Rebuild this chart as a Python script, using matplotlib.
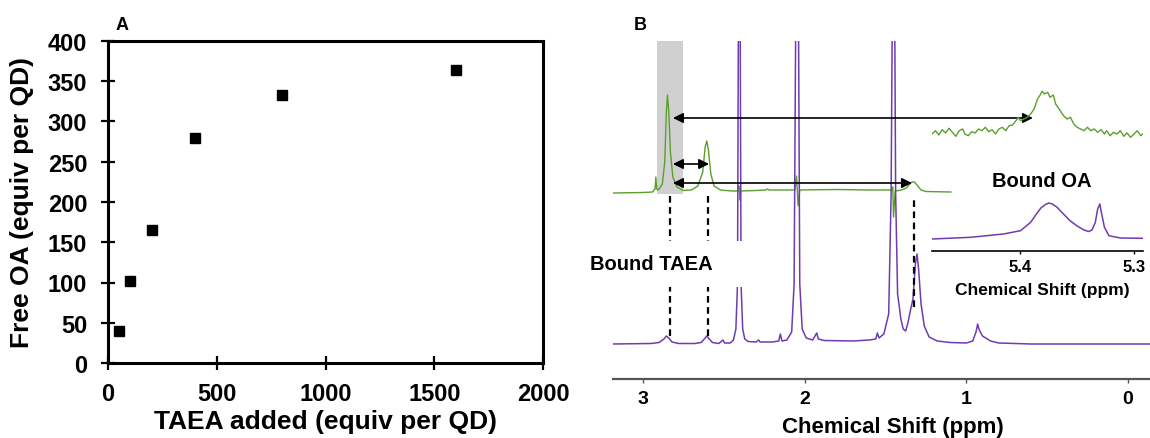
import matplotlib
matplotlib.use("Agg")
import matplotlib.pyplot as plt

plt.rcParams["font.family"] = ["Liberation Sans", "DejaVu Sans"]
plt.rcParams["font.weight"] = "bold"

# --- panel A: free OA vs TAEA added
taea_added = [50, 100, 200, 400, 800, 1600]
free_oa = [40, 102, 165, 280, 333, 364]

# --- panel B: 1H NMR traces (ppm, arbitrary intensity)
purple_ppm = [3.19, 2.95, 2.90, 2.87, 2.855, 2.84, 2.82, 2.78, 2.68, 2.64, 2.62, 2.605,
              2.59, 2.57, 2.53, 2.505, 2.495, 2.46, 2.44, 2.425, 2.415, 2.408, 2.400,
              2.393, 2.383, 2.37, 2.35, 2.30, 2.285, 2.275, 2.20, 2.16, 2.15, 2.14,
              2.11, 2.08, 2.065, 2.052, 2.040, 2.030, 2.015, 1.99, 1.95, 1.925, 1.915,
              1.88, 1.70, 1.60, 1.56, 1.55, 1.54, 1.51, 1.48, 1.465, 1.455, 1.445,
              1.437, 1.425, 1.415, 1.405, 1.39, 1.375, 1.36, 1.345, 1.33, 1.315, 1.305,
              1.295, 1.28, 1.26, 1.23, 1.18, 1.10, 1.00, 0.96, 0.94, 0.93, 0.92, 0.90,
              0.88, 0.85, 0.80, 0.60, -0.14]
purple_int = [0, 0.5, 1.5, 5, 8, 6, 2, 0.5, 0.5, 1.5, 5, 8,
              5, 1.5, 0.5, 4, 1, 1, 4, 15, 60, 400, 400,
              60, 15, 5, 2.5, 2, 4, 2, 2, 3, 10, 3,
              4, 12, 60, 400, 400, 60, 15, 6, 4, 11, 5,
              3.5, 3, 4, 5, 11, 6, 10, 30, 150, 400, 400,
              150, 50, 38, 25, 15, 13, 22, 34, 45, 80, 90,
              75, 40, 18, 7, 3, 1.5, 1, 3, 12, 20, 14, 8,
              6, 3, 1, 0, 0]

green_ppm = [3.185, 3.0, 2.94, 2.925, 2.92, 2.915, 2.905, 2.88, 2.865, 2.855, 2.848,
             2.84, 2.83, 2.815, 2.79, 2.75, 2.70, 2.66, 2.63, 2.615, 2.605, 2.595,
             2.58, 2.56, 2.52, 2.45, 2.41, 2.405, 2.40, 2.395, 2.30, 2.24, 2.23, 2.22,
             2.10, 2.06, 2.05, 2.04, 2.03, 1.80, 1.60, 1.46, 1.455, 1.45, 1.44, 1.40,
             1.37, 1.35, 1.335, 1.32, 1.30, 1.28, 1.25, 1.095]
green_int = [-1, -0.5, 0, 3, 15, 3, 2, 8, 30, 80, 97,
             80, 40, 15, 5, 1.5, 2, 6, 20, 45, 51, 42,
             18, 6, 2, 1, 1, 6, -8, 1, 1.5, 2, 3, 2,
             2, 2, 16, -14, 2, 2.5, 2, 2, 5, -25, 1, 2,
             4, 8, 10, 10, 6, 2, 0.5, 0]
green_offset = 152

# zoomed olefinic region (5.48-5.29 ppm), green trace already stacked above purple
inset_purple_ppm = [5.478, 5.444, 5.415, 5.400, 5.391, 5.386, 5.382, 5.378, 5.375, 5.372,
                    5.368, 5.363, 5.356, 5.350, 5.344, 5.340, 5.337, 5.334, 5.332, 5.330,
                    5.329, 5.326, 5.322, 5.312, 5.292]
inset_purple_int = [0, 1.7, 5, 8.3, 16.7, 25, 31, 34.5, 36, 35,
                    32, 26, 18, 13, 9, 7.5, 9, 16.7, 30, 35,
                    28.3, 11.7, 3.3, 1, 0.7]
inset_green_ppm = [5.478, 5.475, 5.472, 5.469, 5.466, 5.463, 5.460, 5.457, 5.454, 5.451,
                   5.449, 5.446, 5.443, 5.440, 5.437, 5.434, 5.431, 5.428, 5.425, 5.422,
                   5.419, 5.416, 5.413, 5.410, 5.407, 5.404, 5.402, 5.400, 5.397, 5.394,
                   5.391, 5.388, 5.385, 5.383, 5.381, 5.379, 5.376, 5.374, 5.371, 5.369,
                   5.367, 5.365, 5.362, 5.359, 5.356, 5.353, 5.350, 5.347, 5.344, 5.341,
                   5.338, 5.335, 5.332, 5.329, 5.326, 5.324, 5.321, 5.318, 5.315, 5.312,
                   5.309, 5.306, 5.303, 5.300, 5.297, 5.294, 5.292]
inset_green_int = [105, 108.3, 104, 109.3, 106, 110.7, 106.7, 102.7, 108.3, 110,
                   105, 103.3, 107.3, 106, 110, 108.3, 111.7, 107.3, 109.3, 105,
                   110, 111.7, 108.3, 113.3, 114, 118.3, 121.7, 118.3, 120, 121.7,
                   125, 130, 140, 143.3, 147.7, 145, 146.7, 141.7, 144, 135,
                   131.7, 128.3, 123.3, 120, 121.7, 115, 111.7, 110, 108.3, 111.7,
                   108.3, 110, 106.7, 109.3, 105, 108.3, 103.3, 106.7, 105, 108.3,
                   102.7, 106, 101.7, 105, 108.3, 103.3, 105]

bound_taea_ppm = [2.835, 2.597, 1.323]
dash_bottom = [8, 8, 37]
dash_top = 148
arrow_start = 2.814
arrow_ends = [0.588, 2.591, 1.336]
arrow_levels = [226, 180, 161]

PURPLE = "#6f3cb0"
GREEN = "#5c9e2e"

fig = plt.figure(figsize=(11.5, 4.39), dpi=100)

# ---------------- panel A
axA = fig.add_axes([108 / 1150, 75 / 439, 435 / 1150, 322 / 439])
axA.plot(taea_added, free_oa, ls="none", marker="s", ms=7.5, color="black")
axA.set_xlim(0, 2000)
axA.set_ylim(0, 400)
axA.set_xticks(range(0, 2001, 500))
axA.set_yticks(range(0, 401, 50))
for sp in axA.spines.values():
    sp.set_linewidth(2.2)
axA.tick_params(direction="inout", length=10, width=1.6, labelsize=17)
axA.tick_params(axis="x", pad=8.5)
axA.tick_params(axis="y", pad=10)
axA.set_xlabel("TAEA added (equiv per QD)", fontsize=19, fontweight="bold", labelpad=3)
axA.set_ylabel("Free OA (equiv per QD)", fontsize=19, fontweight="bold", labelpad=10)
fig.text(122 / 1150, 1 - 25 / 439, "A", ha="center", va="center", fontsize=13, fontweight="bold")

# ---------------- panel B
axB = fig.add_axes([613 / 1150, 59 / 439, 537 / 1150, 338 / 439])
axB.patch.set_alpha(0)
axB.set_xlim(3.185, -0.136)
axB.set_ylim(-35, 303)
for side in ["top", "left", "right"]:
    axB.spines[side].set_visible(False)
axB.spines["bottom"].set_color("#555555")
axB.spines["bottom"].set_linewidth(1.6)
axB.set_yticks([])
axB.set_xticks([3, 2, 1, 0])
axB.tick_params(axis="x", direction="out", length=3, width=1, color="#555555",
                labelsize=14, pad=5)
axB.set_xlabel("Chemical Shift (ppm)", fontsize=16, fontweight="bold")
axB.xaxis.set_label_coords(0.521, -0.108)

axB.axvspan(2.913, 2.752, ymin=(150 + 35) / 338, ymax=1, color="#d0d0d0", lw=0, zorder=0)
axB.plot(green_ppm, [v + green_offset for v in green_int], color=GREEN, lw=1.0, zorder=2)
axB.plot(purple_ppm, purple_int, color=PURPLE, lw=1.1, zorder=2)
axB.vlines(bound_taea_ppm, dash_bottom, dash_top, colors="black",
           linestyles=(0, (3, 2)), lw=1.6, zorder=2.5)
for x_end, lvl in zip(arrow_ends, arrow_levels):
    axB.annotate("", xy=(x_end, lvl), xytext=(arrow_start, lvl),
                 arrowprops=dict(arrowstyle="<|-|>", color="black", lw=1.2,
                                 shrinkA=0, shrinkB=0, mutation_scale=15),
                 zorder=4)
axB.axhspan(57, 103, xmin=0, xmax=0.255, color="white", lw=0, zorder=3)
axB.text(2.95, 80, "Bound TAEA", ha="center", va="center", fontsize=14.5,
         fontweight="bold", zorder=5)
fig.text(640 / 1150, 1 - 25 / 439, "B", ha="center", va="center", fontsize=13, fontweight="bold")

# ---------------- inset (olefinic protons)
axI = fig.add_axes([932 / 1150, 187 / 439, 211 / 1150, 167 / 439])
axI.patch.set_alpha(0)
axI.set_xlim(5.478, 5.292)
axI.set_ylim(-12, 155)
for side in ["top", "left", "right"]:
    axI.spines[side].set_visible(False)
axI.spines["bottom"].set_linewidth(1.2)
axI.set_yticks([])
axI.set_xticks([5.4, 5.3])
axI.set_xticklabels(["5.4", "5.3"])
axI.tick_params(axis="x", direction="out", length=2, width=1, labelsize=12, pad=4)
axI.set_xlabel("Chemical Shift (ppm)", fontsize=12.5, fontweight="bold")
axI.xaxis.set_label_coords(110 / 211, -0.185)
axI.plot(inset_green_ppm, inset_green_int, color=GREEN, lw=1.0)
axI.plot(inset_purple_ppm, inset_purple_int, color=PURPLE, lw=1.1)
axI.text(5.381, 58, "Bound OA", ha="center", va="center", fontsize=14.5, fontweight="bold")

fig.savefig("out.png", dpi=100)
plt.close(fig)
